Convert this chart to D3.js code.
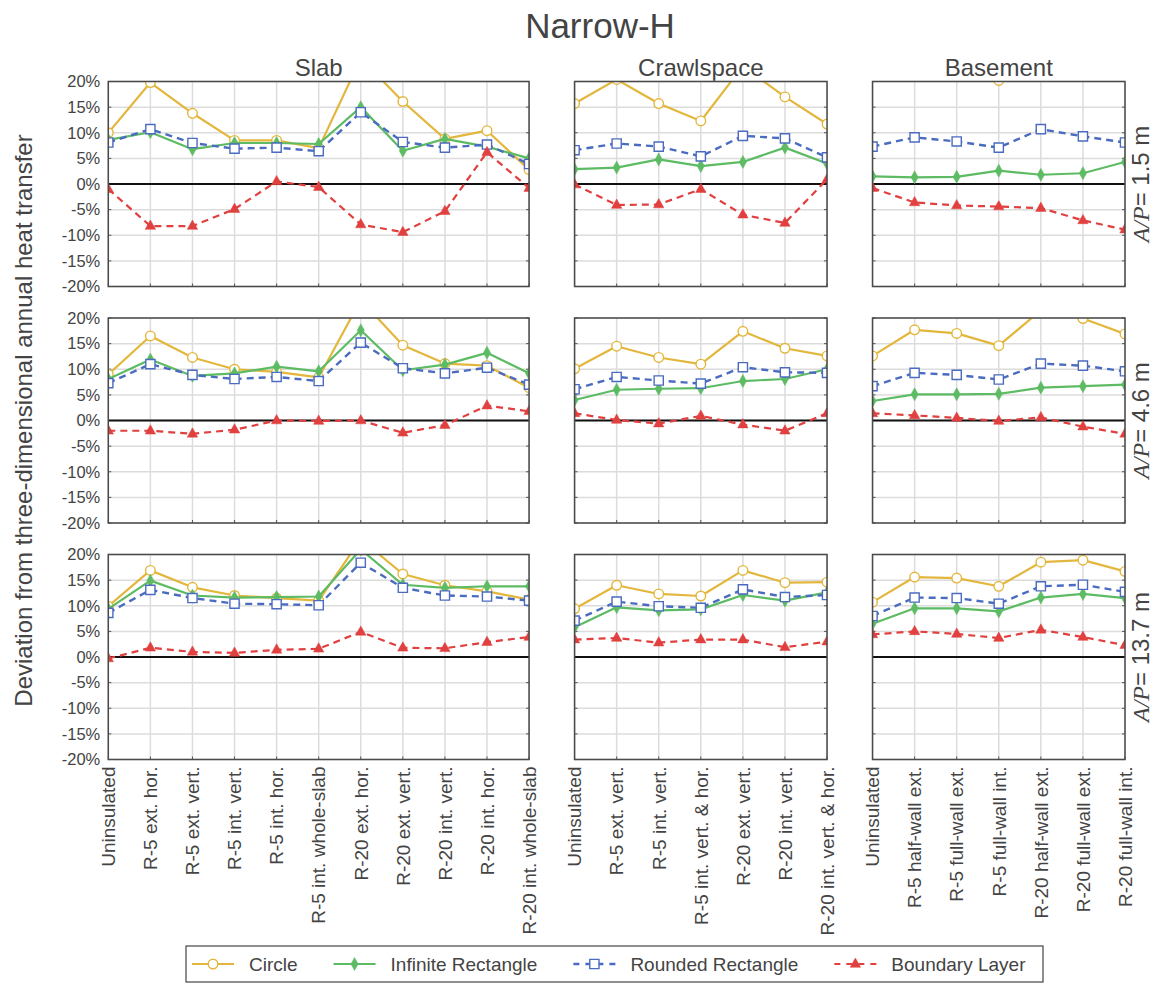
<!DOCTYPE html>
<html><head><meta charset="utf-8">
<script src="https://cdn.jsdelivr.net/npm/d3@7"></script>
<style>
body{margin:0;background:#fff}
svg{display:block}
text{font-family:"Liberation Sans",Arial,Helvetica,sans-serif;fill:#444}
</style>
</head><body><svg id="chart" width="1159" height="983"></svg>
<script>
// ---------------- data ----------------
const chartTitle = "Narrow-H";
const foundations = ["Slab", "Crawlspace", "Basement"];
const apLabels = ["1.5 m", "4.6 m", "13.7 m"];
const yTicks = [-20, -15, -10, -5, 0, 5, 10, 15, 20];
const seriesNames = ["Circle", "Infinite Rectangle", "Rounded Rectangle", "Boundary Layer"];

const slabCategories = ["Uninsulated", "R-5 ext. hor.", "R-5 ext. vert.", "R-5 int. vert.", "R-5 int. hor.", "R-5 int. whole-slab", "R-20 ext. hor.", "R-20 ext. vert.", "R-20 int. vert.", "R-20 int. hor.", "R-20 int. whole-slab"];
const crawlCategories = ["Uninsulated", "R-5 ext. vert.", "R-5 int. vert.", "R-5 int. vert. & hor.", "R-20 ext. vert.", "R-20 int. vert.", "R-20 int. vert. & hor."];
const basementCategories = ["Uninsulated", "R-5 half-wall ext.", "R-5 full-wall ext.", "R-5 full-wall int.", "R-20 half-wall ext.", "R-20 full-wall ext.", "R-20 full-wall int."];

// values in percent; one inner array per A/P row (1.5 m, 4.6 m, 13.7 m)
const slabCircle = [
  [10.0, 19.8, 13.8, 8.5, 8.5, 7.0, 24.5, 16.1, 8.8, 10.4, 2.8],
  [9.0, 16.5, 12.3, 10.0, 9.5, 8.4, 23.5, 14.7, 11.1, 10.7, 6.4],
  [9.9, 16.9, 13.6, 12.0, 11.5, 11.0, 23.0, 16.2, 14.0, 12.8, 11.2]];
const slabInfinite = [
  [8.6, 10.1, 6.8, 8.0, 8.0, 7.8, 15.0, 6.5, 8.8, 7.3, 5.0],
  [8.1, 11.9, 8.7, 9.2, 10.5, 9.6, 17.6, 9.8, 10.9, 13.2, 9.2],
  [9.4, 14.9, 12.0, 11.6, 11.7, 11.8, 21.0, 14.1, 13.5, 13.8, 13.8]];
const slabRounded = [
  [8.1, 10.7, 8.0, 6.9, 7.1, 6.4, 14.0, 8.2, 7.1, 7.7, 3.9],
  [7.3, 11.0, 8.9, 8.1, 8.5, 7.7, 15.2, 10.2, 9.2, 10.3, 7.0],
  [8.6, 13.1, 11.5, 10.4, 10.3, 10.1, 18.4, 13.5, 12.0, 11.8, 11.0]];
const slabBoundary = [
  [-1.0, -8.2, -8.2, -4.9, 0.5, -0.6, -7.9, -9.4, -5.3, 6.2, -0.8],
  [-2.0, -2.0, -2.6, -1.8, 0.0, -0.1, 0.0, -2.4, -0.9, 2.9, 1.8],
  [-0.3, 1.8, 1.0, 0.8, 1.4, 1.6, 4.9, 1.8, 1.7, 2.9, 3.9]];

const crawlCircle = [
  [15.7, 20.4, 15.7, 12.3, 23.0, 17.0, 11.7],
  [10.1, 14.5, 12.3, 11.0, 17.4, 14.1, 12.6],
  [9.4, 14.0, 12.3, 11.9, 16.9, 14.5, 14.6]];
const crawlInfinite = [
  [2.9, 3.2, 4.8, 3.5, 4.3, 7.1, 4.0],
  [4.0, 6.0, 6.2, 6.3, 7.7, 8.1, 10.0],
  [5.8, 9.7, 9.1, 9.3, 12.1, 11.0, 12.6]];
const crawlRounded = [
  [6.6, 7.9, 7.3, 5.4, 9.4, 8.9, 5.2],
  [6.1, 8.5, 7.8, 7.2, 10.4, 9.4, 9.3],
  [7.1, 10.8, 9.9, 9.6, 13.2, 11.7, 12.1]];
const crawlBoundary = [
  [-0.1, -4.1, -4.0, -1.0, -6.0, -7.6, 0.9],
  [1.4, 0.1, -0.6, 0.9, -0.8, -2.0, 1.4],
  [3.4, 3.7, 2.8, 3.4, 3.4, 1.9, 3.0]];

const basementCircle = [
  [22.5, 24.0, 23.0, 20.2, 25.0, 24.0, 23.5],
  [12.6, 17.7, 17.0, 14.6, 21.5, 19.9, 16.9],
  [10.7, 15.6, 15.4, 13.8, 18.5, 18.9, 16.7]];
const basementInfinite = [
  [1.5, 1.3, 1.4, 2.6, 1.8, 2.1, 4.3],
  [3.8, 5.1, 5.1, 5.2, 6.4, 6.7, 7.0],
  [6.5, 9.5, 9.5, 8.9, 11.6, 12.3, 11.5]];
const basementRounded = [
  [7.3, 9.1, 8.3, 7.1, 10.7, 9.3, 8.1],
  [6.7, 9.3, 8.9, 8.0, 11.1, 10.7, 9.6],
  [8.0, 11.6, 11.5, 10.4, 13.8, 14.1, 12.7]];
const basementBoundary = [
  [-0.8, -3.6, -4.2, -4.4, -4.7, -7.1, -8.9],
  [1.4, 1.0, 0.5, -0.1, 0.6, -1.2, -2.6],
  [4.4, 5.0, 4.5, 3.7, 5.3, 3.9, 2.3]];

// ---------------- styling / layout ----------------
const seriesStyle = [
  {color: "#e3b63c", dash: null, width: 2.2, marker: "circle"},
  {color: "#5dbb63", dash: null, width: 2.2, marker: "diamond"},
  {color: "#4a6bc0", dash: "7,5", width: 2.4, marker: "square"},
  {color: "#e0403f", dash: "7,5", width: 2.2, marker: "triangle"}
];
const panels = [
  {cats: slabCategories, series: [slabCircle, slabInfinite, slabRounded, slabBoundary]},
  {cats: crawlCategories, series: [crawlCircle, crawlInfinite, crawlRounded, crawlBoundary]},
  {cats: basementCategories, series: [basementCircle, basementInfinite, basementRounded, basementBoundary]}
];

const svg = d3.select("#chart");
const plotLeft = 108.3, plotRight = 1125, colGap = 45.5;
const rowTop0 = 81.5, rowH = 205, rowGap = 31.5;
const nIntervals = d3.sum(panels, p => p.cats.length - 1);
const unit = (plotRight - plotLeft - 2 * colGap) / nIntervals;

let cursor = plotLeft;
panels.forEach(p => {
  p.x0 = cursor;
  p.x1 = cursor + unit * (p.cats.length - 1);
  cursor = p.x1 + colGap;
  p.x = d3.scalePoint().domain(p.cats).range([p.x0, p.x1]).padding(0);
});

function markerPath(type) {
  if (type === "diamond") return "M0,-6.5L3.6,0L0,6.5L-3.6,0Z";
  if (type === "square") return "M-4.6,-4.6H4.6V4.6H-4.6Z";
  if (type === "triangle") return "M0,-6L5.2,3.3L-5.2,3.3Z";
  return null;
}

// title
svg.append("text").attr("x", 600).attr("y", 38).attr("text-anchor", "middle")
  .style("font-size", "35px").text(chartTitle);

// column titles
panels.forEach((p, c) => {
  svg.append("text").attr("x", (p.x0 + p.x1) / 2).attr("y", 76).attr("text-anchor", "middle")
    .style("font-size", "24px").text(foundations[c]);
});

// y axis title
svg.append("text").attr("transform", `translate(32,${rowTop0 + (3 * rowH + 2 * rowGap) / 2}) rotate(-90)`)
  .attr("text-anchor", "middle").style("font-size", "24px")
  .text("Deviation from three-dimensional annual heat transfer");

const defs = svg.append("defs");

for (let r = 0; r < 3; r++) {
  const top = rowTop0 + r * (rowH + rowGap);
  const bottom = top + rowH;
  const y = d3.scaleLinear().domain([-20, 20]).range([bottom, top]);

  panels.forEach((p, c) => {
    const g = svg.append("g");
    const clipId = `clip-${r}-${c}`;
    defs.append("clipPath").attr("id", clipId).append("rect")
      .attr("x", p.x0).attr("y", top).attr("width", p.x1 - p.x0).attr("height", rowH);

    // grid
    g.selectAll(".hg").data(yTicks).join("line")
      .attr("x1", p.x0).attr("x2", p.x1).attr("y1", d => y(d)).attr("y2", d => y(d))
      .attr("stroke", "#dcdcdc").attr("stroke-width", 1.5);
    g.selectAll(".vg").data(p.cats).join("line")
      .attr("x1", d => p.x(d)).attr("x2", d => p.x(d)).attr("y1", top).attr("y2", bottom)
      .attr("stroke", "#dcdcdc").attr("stroke-width", 1.5);
    // small inward ticks on the frame
    g.selectAll(".rt").data(yTicks).join("line")
      .attr("x1", p.x1 - 3).attr("x2", p.x1).attr("y1", d => y(d)).attr("y2", d => y(d))
      .attr("stroke", "#555").attr("stroke-width", 1);
    g.selectAll(".lt").data(yTicks).join("line")
      .attr("x1", p.x0).attr("x2", p.x0 + 3).attr("y1", d => y(d)).attr("y2", d => y(d))
      .attr("stroke", "#555").attr("stroke-width", 1);
    g.selectAll(".bt").data(p.cats).join("line")
      .attr("x1", d => p.x(d)).attr("x2", d => p.x(d)).attr("y1", bottom - 3).attr("y2", bottom)
      .attr("stroke", "#555").attr("stroke-width", 1);

    // zero line
    g.append("line").attr("x1", p.x0).attr("x2", p.x1).attr("y1", y(0)).attr("y2", y(0))
      .attr("stroke", "#111").attr("stroke-width", 2);

    // series
    const sg = g.append("g").attr("clip-path", `url(#${clipId})`);
    p.series.forEach((arr, s) => {
      const st = seriesStyle[s];
      const vals = arr[r].map((v, i) => ({cat: p.cats[i], v}));
      const line = d3.line().x(d => p.x(d.cat)).y(d => y(d.v));
      sg.append("path").datum(vals).attr("d", line).attr("fill", "none")
        .attr("stroke", st.color).attr("stroke-width", st.width)
        .attr("stroke-dasharray", st.dash).attr("stroke-linejoin", "round");
      if (st.marker === "circle") {
        sg.selectAll(null).data(vals).join("circle")
          .attr("cx", d => p.x(d.cat)).attr("cy", d => y(d.v)).attr("r", 4.8)
          .attr("fill", "#fff").attr("stroke", st.color).attr("stroke-width", 1.4);
      } else {
        const isOpen = st.marker === "square";
        sg.selectAll(null).data(vals).join("path")
          .attr("d", markerPath(st.marker))
          .attr("transform", d => `translate(${p.x(d.cat)},${y(d.v)})`)
          .attr("fill", isOpen ? "#fff" : st.color)
          .attr("stroke", st.color).attr("stroke-width", isOpen ? 1.4 : 0.5);
      }
    });

    // frame
    g.append("rect").attr("x", p.x0).attr("y", top).attr("width", p.x1 - p.x0).attr("height", rowH)
      .attr("fill", "none").attr("stroke", "#4a4a4a").attr("stroke-width", 1.5);

    // y tick labels on first column
    if (c === 0) {
      g.selectAll(".yl").data(yTicks).join("text")
        .attr("x", p.x0 - 8).attr("y", d => y(d)).attr("dy", "0.35em")
        .attr("text-anchor", "end").style("font-size", "16.5px")
        .text(d => d + "%");
    }
    // x tick labels on last row
    if (r === 2) {
      g.selectAll(".xl").data(p.cats).join("text")
        .attr("transform", d => `translate(${p.x(d) + 6.8},${bottom + 7}) rotate(-90)`)
        .attr("text-anchor", "end").style("font-size", "19px")
        .text(d => d);
    }
  });

  // right row label  A/P = x m
  const lab = svg.append("text")
    .attr("transform", `translate(1149,${(top + bottom) / 2}) rotate(-90)`)
    .attr("text-anchor", "middle").style("font-size", "24px");
  lab.append("tspan").style("font-family", "'Liberation Serif','DejaVu Serif',serif")
    .style("font-style", "italic").text("A/P");
  lab.append("tspan").text("= " + apLabels[r]);
}

// legend
const lg = svg.append("g");
const legY = 964;
lg.append("rect").attr("x", 186).attr("y", 946).attr("width", 857).attr("height", 36)
  .attr("fill", "#fff").attr("stroke", "#444").attr("stroke-width", 1.2);
let lx = 192;
seriesNames.forEach((name, s) => {
  const st = seriesStyle[s];
  const e = lg.append("g");
  e.append("line").attr("x1", lx).attr("x2", lx + 42).attr("y1", legY).attr("y2", legY)
    .attr("stroke", st.color).attr("stroke-width", st.width)
    .attr("stroke-dasharray", st.dash ? "6,6" : null);
  const mx = lx + 21;
  if (st.marker === "circle") {
    e.append("circle").attr("cx", mx).attr("cy", legY).attr("r", 4.8)
      .attr("fill", "#fff").attr("stroke", st.color).attr("stroke-width", 1.4);
  } else {
    const isOpen = st.marker === "square";
    e.append("path").attr("d", markerPath(st.marker)).attr("transform", `translate(${mx},${legY})`)
      .attr("fill", isOpen ? "#fff" : st.color).attr("stroke", st.color)
      .attr("stroke-width", isOpen ? 1.4 : 0.5);
  }
  const t = e.append("text").attr("x", lx + 57).attr("y", legY).attr("dy", "0.35em")
    .style("font-size", "19px").text(name);
  lx = lx + 57 + t.node().getComputedTextLength() + 36;
});
</script>
</body></html>
